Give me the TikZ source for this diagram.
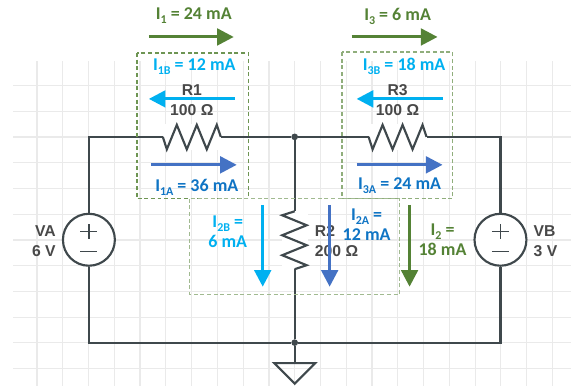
\documentclass[tikz,border=0pt]{standalone}
\usepackage{fontspec}
\setmainfont{Carlito}
\newfontfamily\partfont{Liberation Sans}
\usetikzlibrary{arrows.meta}
\definecolor{wirecol}{HTML}{3F484C}
\definecolor{gridcol}{HTML}{EAEAEA}
\definecolor{partcol}{HTML}{484848}
\definecolor{leafgreen}{HTML}{548235}
\definecolor{skyblue}{HTML}{00B0F0}
\definecolor{midblue}{HTML}{4472C4}
\definecolor{textblue}{HTML}{0F74C4}
\newcommand{\cursub}[1]{\raisebox{-0.45ex}{\fontsize{9}{9}\selectfont #1}}
\tikzset{
  reszig/.pic={
    \fill[white] (-29,-13) rectangle (29,13);
    \coordinate (-l) at (-29,0);
    \coordinate (-r) at (29,0);
    \draw[wire] (-l) -- (-25,12.5) -- (-15,-12) -- (-5,12.5) -- (5,-12) -- (15,12.5) -- (25,-12) -- (-r);
  }
}
\begin{document}
\begin{tikzpicture}
[
  x=0.75pt,
  y=-0.75pt,
  wire/.style={line width=1.6pt,draw=wirecol,line join=miter},
  gridline/.style={line width=0.9pt,draw=gridcol},
  source/.style={circle,draw=wirecol,fill=white,line width=1.6pt,minimum size=39pt,inner sep=0pt},
  junction/.style={circle,fill=wirecol,minimum size=5pt,inner sep=0pt},
  gndtri/.style={line width=1.6pt,draw=wirecol,line join=miter},
  part/.style={font=\partfont\fontsize{11.8}{15}\selectfont\bfseries,text=partcol,inner sep=0pt},
  cur/.style={font=\fontsize{13.5}{15}\selectfont\bfseries,inner sep=0pt,align=center},
  flow/.style={line width=2.3pt,-{Triangle[length=12.5pt,width=12.5pt]}},
  zone/.style={line width=1pt,dash pattern=on 3pt off 2pt}
]

% grid
\foreach \gx in {0,...,20} \draw[gridline] (37+25.8*\gx,61) -- (37+25.8*\gx,386);
\foreach \gy in {0,...,11} \draw[gridline] (13,85.7+25.75*\gy) -- (572,85.7+25.75*\gy);
\useasboundingbox (0,0) rectangle (572,386);

% circuit
\node[source] (VA) at (89,240) {};
\node[source] (VB) at (501,240) {};
\pic (R1) at (192,137) {reszig};
\pic (R3) at (398,137) {reszig};
\pic[rotate=-90] (R2) at (295,240.5) {reszig};
\node[junction] (top) at (295,137) {};
\node[junction] (bot) at (295,343) {};
\coordinate (gnd) at (295,363.5);

\draw[wire] (VA.north) |- (R1-l);
\draw[wire] (R1-r) -- (top) -- (R3-l);
\draw[wire] (R3-r) -| (VB.north);
\draw[wire] (VA.south) |- (bot) -| (VB.south);
\draw[wire] (top) -- (R2-l);
\draw[wire] (R2-r) -- (bot) -- (gnd);
\draw[gndtri] (274.5,363.5) -- (315.5,363.5) -- (295,384) -- cycle;

\foreach \src in {VA,VB} {
  \draw[wire,line width=1.3pt] (\src.center)++(-8.5,-8.3) -- ++(17,0);
  \draw[wire,line width=1.3pt] (\src.center)++(0,-15.5) -- ++(0,15);
  \draw[wire,line width=1.3pt] (\src.center)++(-8.5,11.7) -- ++(17,0);
}

% part labels
\node[part,align=right,anchor=east] (VAlabel) at (56,241.7) {VA\\6 V};
\node[part,align=left,anchor=west] (VBlabel) at (534,241.7) {VB\\3 V};
\node[part] (R1name) at (192,90) {R1};
\node[part] (R1val) at (192,110) {100 Ω};
\node[part] (R3name) at (398,90) {R3};
\node[part] (R3val) at (398,110) {100 Ω};
\node[part,align=left,anchor=west] (R2label) at (315,241.7) {R2\\200 Ω};

% boxes
\draw[zone,draw=leafgreen!85] (137,53) rectangle (248.5,199);
\draw[zone,draw=leafgreen!65] (342.5,52) rectangle (453,199);
\draw[zone,draw=leafgreen!55] (190,199) rectangle (400,295);

% currents
\node[cur,text=leafgreen] (I1) at (194,16) {I\cursub{1} = 24 mA};
\node[cur,text=leafgreen] (I3) at (398,16) {I\cursub{3} = 6 mA};
\node[cur,text=skyblue] (I1B) at (194.5,67) {I\cursub{1B} = 12 mA};
\node[cur,text=skyblue] (I3B) at (404.5,66) {I\cursub{3B} = 18 mA};
\node[cur,text=textblue] (I1A) at (197,188) {I\cursub{1A} = 36 mA};
\node[cur,text=textblue] (I3A) at (400,186) {I\cursub{3A} = 24 mA};
\node[cur,text=skyblue] (I2B) at (228,232) {I\cursub{2B} =\\6 mA};
\node[cur,text=textblue] (I2A) at (367,225) {I\cursub{2A} =\\12 mA};
\node[cur,text=leafgreen] (I2) at (443,240) {I\cursub{2} =\\18 mA};

% arrows
\coordinate (I1s) at (149,37); \coordinate (I1e) at (234,37);
\coordinate (I3s) at (352,37); \coordinate (I3e) at (438,37);
\coordinate (I1Bs) at (235,99); \coordinate (I1Be) at (149,99);
\coordinate (I3Bs) at (443,99); \coordinate (I3Be) at (357,99);
\coordinate (I1As) at (151,165); \coordinate (I1Ae) at (237,165);
\coordinate (I3As) at (357,165); \coordinate (I3Ae) at (443,165);
\coordinate (I2Bs) at (263,205); \coordinate (I2Be) at (263,287);
\coordinate (I2As) at (330,205); \coordinate (I2Ae) at (330,287);
\coordinate (I2s) at (410,205); \coordinate (I2e) at (410,287);

\draw[flow,leafgreen] (I1s) -- (I1e);
\draw[flow,leafgreen] (I3s) -- (I3e);
\draw[flow,skyblue] (I1Bs) -- (I1Be);
\draw[flow,skyblue] (I3Bs) -- (I3Be);
\draw[flow,midblue] (I1As) -- (I1Ae);
\draw[flow,midblue] (I3As) -- (I3Ae);
\draw[flow,skyblue] (I2Bs) -- (I2Be);
\draw[flow,midblue] (I2As) -- (I2Ae);
\draw[flow,leafgreen] (I2s) -- (I2e);

\end{tikzpicture}
\end{document}
